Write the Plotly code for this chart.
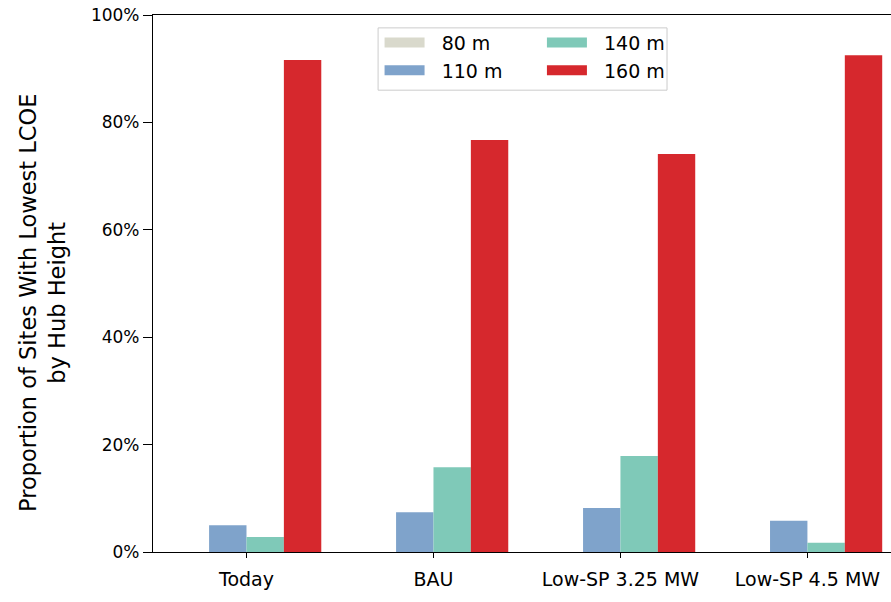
import plotly.graph_objects as go

scenarios = ["Today", "BAU", "Low-SP 3.25 MW", "Low-SP 4.5 MW"]
hub_heights = ["80 m", "110 m", "140 m", "160 m"]
share_80 = [0.0, 0.0, 0.0, 0.0]
share_110 = [5.0, 7.4, 8.2, 5.8]
share_140 = [2.8, 15.8, 17.9, 1.7]
share_160 = [91.6, 76.7, 74.1, 92.5]

series = [share_80, share_110, share_140, share_160]
colors = ["#d9d9cc", "#7fa3cb", "#7fc9b8", "#d6282d"]
legend_ids = ["legend", "legend", "legend2", "legend2"]

fig = go.Figure()
xs = list(range(len(scenarios)))
for name, vals, col in zip(hub_heights, series, colors):
    fig.add_trace(go.Bar(
        x=xs, y=vals, name=name,
        marker=dict(color=col, line=dict(width=0)),
        width=0.2, showlegend=False,
    ))
# legend keys (wide patches like the original)
for name, col, lg in zip(hub_heights, colors, legend_ids):
    fig.add_trace(go.Scatter(
        x=[None], y=[None], name="\u00a0\u00a0" + name, mode="lines",
        line=dict(color=col, width=14), legend=lg, showlegend=True,
    ))

font = "DejaVu Sans, sans-serif"
leg_common = dict(
    orientation="v", yanchor="top", xanchor="left",
    bgcolor="rgba(0,0,0,0)", borderwidth=0,
    font=dict(size=19), itemwidth=40, tracegroupgap=0,
)
fig.update_layout(
    width=891, height=602,
    margin=dict(l=153, r=0, t=15, b=50),
    paper_bgcolor="white", plot_bgcolor="white",
    barmode="group", bargap=0.2, bargroupgap=0,
    font=dict(family=font, size=16, color="black"),
    showlegend=True,
    legend=dict(x=0.307, y=0.984, **leg_common),
    legend2=dict(x=0.527, y=0.984, **leg_common),
    shapes=[dict(
        type="rect", xref="paper", yref="paper",
        x0=0.305, x1=0.6965, y0=0.860, y1=0.976,
        fillcolor="white", line=dict(color="#cccccc", width=1), layer="above",
    )],
    annotations=[dict(
        text="Proportion of Sites With Lowest LCOE<br>by Hub Height",
        xref="paper", yref="paper", x=-0.149, y=0.4637,
        xanchor="center", yanchor="middle", textangle=-90,
        showarrow=False, font=dict(size=22.5),
    )],
    xaxis=dict(
        range=[-0.5, 3.447], tickmode="array",
        tickvals=xs, ticktext=scenarios,
        showline=True, linecolor="black", linewidth=1.2, mirror=True,
        ticks="outside", ticklen=5, tickcolor="black", showgrid=False,
        zeroline=False, tickfont=dict(size=19), ticklabelstandoff=5,
    ),
    yaxis=dict(
        range=[0, 100], tickvals=[0, 20, 40, 60, 80, 100],
        ticktext=["0%", "20%", "40%", "60%", "80%", "100%"],
        showline=True, linecolor="black", linewidth=1.2,
        ticks="outside", ticklen=9, tickcolor="black", showgrid=False,
        zeroline=False, tickfont=dict(size=17),
    ),
)

fig.write_html("out.html")
